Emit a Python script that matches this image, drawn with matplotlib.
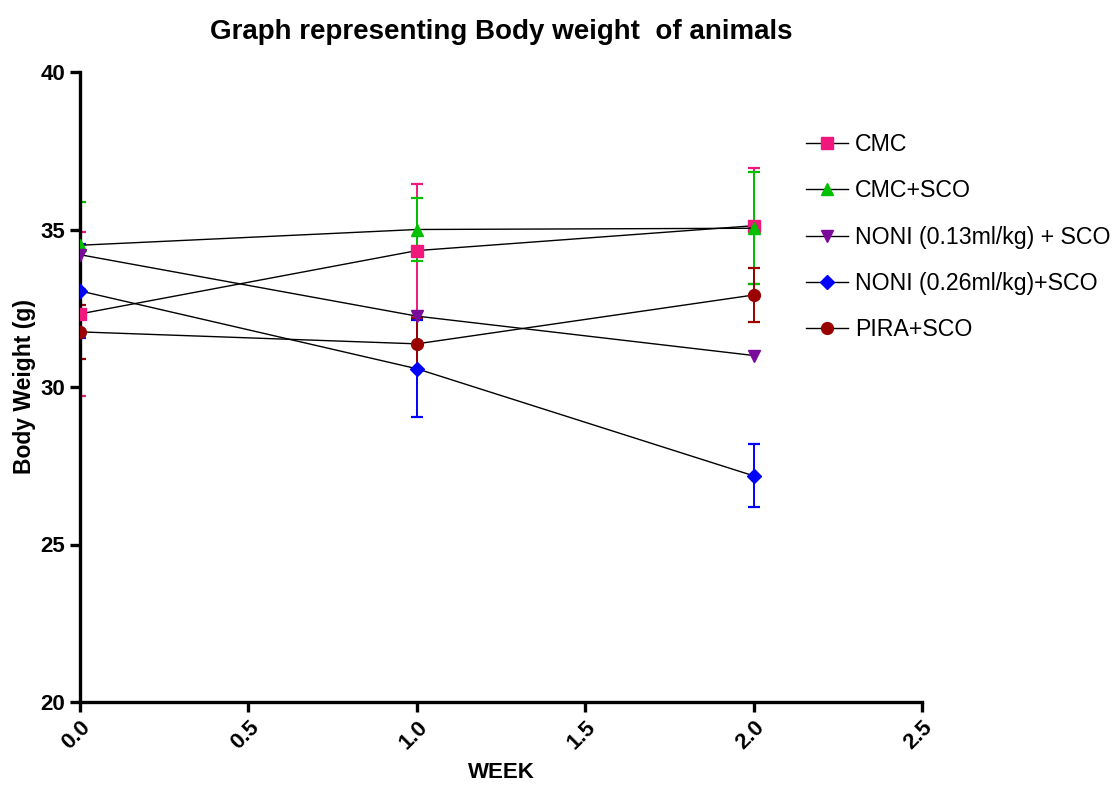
import matplotlib
matplotlib.use("Agg")
import matplotlib.pyplot as plt
import numpy as np

plt.rcParams['font.family'] = ['Liberation Sans', 'DejaVu Sans']

weeks = [0, 1, 2]

labels = ['CMC', 'CMC+SCO', 'NONI (0.13ml/kg) + SCO', 'NONI (0.26ml/kg)+SCO', 'PIRA+SCO']
cmc = [32.32, 34.33, 35.12]
cmc_sem = [2.59, 2.11, 1.84]
cmc_sco = [34.50, 35.00, 35.04]
cmc_sco_sem = [1.38, 1.00, 1.78]
noni_13 = [34.20, 32.25, 31.00]
noni_13_sem = [0.0, 0.0, 0.0]
noni_26 = [33.05, 30.58, 27.18]
noni_26_sem = [1.48, 1.54, 1.00]
pira = [31.75, 31.37, 32.92]
pira_sem = [0.86, 0.83, 0.87]

means = [cmc, cmc_sco, noni_13, noni_26, pira]
sems = [cmc_sem, cmc_sco_sem, noni_13_sem, noni_26_sem, pira_sem]
colors = ['#f0187c', '#00c000', '#7a0a9a', '#0000ff', '#9a0000']
markers = ['s', '^', 'v', 'D', 'o']
msizes = [8, 9, 9, 7, 8.5]

fig = plt.figure(figsize=(11.19, 7.85), dpi=100)
ax = fig.add_axes([80/1119, 83/785, (922-80)/1119, (702-72)/785])

for m, s, c, mk, ms, lab in zip(means, sems, colors, markers, msizes, labels):
    if max(s) > 0:
        ax.errorbar(weeks, m, yerr=s, fmt='none', ecolor=c, elinewidth=1.4,
                    capsize=4.5, capthick=1.6, zorder=2)
    ax.plot(weeks, m, color='black', lw=1.0, marker=mk, markersize=ms,
            markerfacecolor=c, markeredgecolor=c, label=lab, zorder=3)

ax.set_xlim(0, 2.5)
ax.set_ylim(20, 40)
ax.set_xticks([0, 0.5, 1.0, 1.5, 2.0, 2.5])
ax.set_xticklabels(['0.0', '0.5', '1.0', '1.5', '2.0', '2.5'])
ax.set_yticks([20, 25, 30, 35, 40])
for sp in ['top', 'right']:
    ax.spines[sp].set_visible(False)
for sp in ['left', 'bottom']:
    ax.spines[sp].set_linewidth(2.4)
ax.tick_params(axis='both', width=2.4, length=7, labelsize=16)
for t in ax.get_yticklabels():
    t.set_fontweight('bold')
for t in ax.get_xticklabels():
    t.set_fontweight('bold')
    t.set_rotation(45)
    t.set_ha('right')
    t.set_rotation_mode('anchor')

ax.set_xlabel('WEEK', fontsize=16, fontweight='bold', labelpad=6)
ax.set_ylabel('Body Weight (g)', fontsize=16.5, fontweight='bold', labelpad=3)
ax.set_title('Graph representing Body weight  of animals', fontsize=20,
             fontweight='bold', pad=24)

fig.legend(loc='upper left', bbox_to_anchor=(797/1119, 1 - 124/785), frameon=False,
           fontsize=16.7, handlelength=1.8, handletextpad=0.3, labelspacing=1.0,
           borderaxespad=0)

fig.savefig('out.png', dpi=100)
